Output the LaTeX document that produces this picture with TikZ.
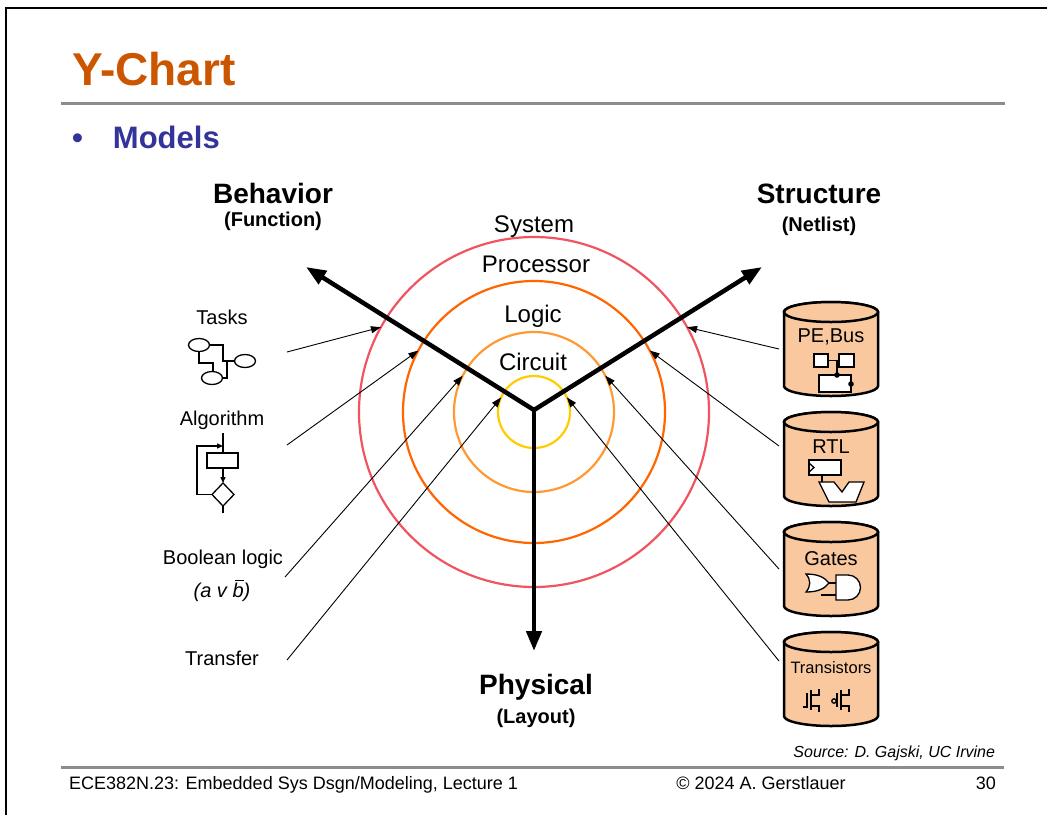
\documentclass[tikz,border=0pt]{standalone}
\usepackage{fontspec}
\setmainfont{Liberation Sans}
\setsansfont{Liberation Sans}
\usepackage{tikz}
\usetikzlibrary{arrows.meta}
\usetikzlibrary{chains}
\usetikzlibrary{positioning}

\definecolor{titleorange}{RGB}{204,85,0}
\definecolor{modelsblue}{RGB}{51,51,153}
\definecolor{ringred}{RGB}{240,84,96}
\definecolor{ringorange}{RGB}{255,102,0}
\definecolor{ringlight}{RGB}{255,153,51}
\definecolor{ringyellow}{RGB}{255,204,0}
\definecolor{dbfill}{RGB}{250,200,158}
\definecolor{rulegray}{RGB}{140,140,140}

% database drum round a named node
\newcommand{\dbshape}[1]{%
	\draw[dbline] ([yshift=-10pt]#1.north west) -- ([yshift=10pt]#1.south west)
		arc[start angle=180, end angle=360, x radius=47pt, y radius=10pt]
		-- ([yshift=-10pt]#1.north east)
		arc[start angle=0, end angle=180, x radius=47pt, y radius=10pt] -- cycle;
	\draw[dbline] ([yshift=-10pt]#1.north) ellipse [x radius=47pt, y radius=10pt];
}

\begin{document}
\begin{tikzpicture}[
	x=1pt, y=-1pt,
	start chain=1 going below,
	node distance=16pt,
	every node/.style={font=\sffamily, inner sep=0pt, outer sep=0pt},
	ring/.style={
		circle,
		draw=#1,
		line width=2.2pt
		},
	axis/.style={
		line width=4.5pt,
		line join=miter,
		-{Triangle[length=20pt,width=15pt]}
		},
	feed/.style={
		line width=0.9pt,
		-{Triangle[length=10pt,width=7pt]}
		},
	db/.style={
		on chain=1,
		rectangle,
		minimum width=94pt,
		minimum height=94pt
		},
	dbline/.style={
		line width=2.5pt,
		fill=dbfill
		},
	icon/.style={
		line width=1.3pt,
		fill=white
		},
	head/.style={anchor=base, font=\bfseries\fontsize{28}{30}\selectfont},
	sub/.style={anchor=base, font=\bfseries\fontsize{20}{22}\selectfont},
	level/.style={anchor=base, font=\fontsize{24}{26}\selectfont},
	model/.style={anchor=base, font=\fontsize{20}{22}\selectfont},
	foot/.style={font=\fontsize{18}{20}\selectfont}
]
\useasboundingbox (0,0) rectangle (1047,815);

% Frame and header
\draw[line width=2.5pt] (6,815) -- (6,8) -- (1047,8);
\node[anchor=base west, font=\bfseries\fontsize{46}{48}\selectfont, text=titleorange] (Title) at (72,85) {Y-Chart};
\draw[rulegray, line width=3pt] (61,103) -- (1005,103);
\node[anchor=base west, font=\bfseries\fontsize{31}{33}\selectfont, text=modelsblue] (Models) at (72,148) {\makebox[41pt][l]{\textbullet}Models};

% Rings
\node[ring=ringred, minimum size=350pt] (Ring 4) at (534,412) {};
\node[ring=ringorange, minimum size=262pt] (Ring 3) at (534,412) {};
\node[ring=ringlight, minimum size=160pt] (Ring 2) at (534,412) {};
\node[ring=ringyellow, minimum size=72pt] (Ring 1) at (534,412) {};
\node[level] (System) at (534,232) {System};
\node[level] (Processor) at (536,272) {Processor};
\node[level] (Logic) at (533,322) {Logic};
\node[level] (Circuit) at (533,370) {Circuit};

% Axes
\coordinate (Origin) at (534,410);
\coordinate (Behavior tip) at (306,267);
\coordinate (Structure tip) at (762,267);
\coordinate (Physical tip) at (534,651);
\draw[axis, {Triangle[length=20pt,width=15pt]}-{Triangle[length=20pt,width=15pt]}] (Behavior tip) -- (Origin) -- (Structure tip);
\draw[axis] (Origin) -- (Physical tip);
\node[head] (Behavior) at (273,203) {Behavior};
\node[sub] (Function) at (273,226) {(Function)};
\node[head] (Structure) at (819,203) {Structure};
\node[sub] (Netlist) at (819,231) {(Netlist)};
\node[head] (Physical) at (536,694) {Physical};
\node[sub] (Layout) at (536,723) {(Layout)};

% Behavior models
\node[model] (Tasks) at (222,324) {Tasks};
\node[model] (Algorithm) at (222,425) {Algorithm};
\node[model] (Boolean) at (223,564) {Boolean logic};
\node[model, font=\itshape\fontsize{20}{22}\selectfont] (Formula) at (222,597) {(a v b\llap{\raisebox{0.8em}{\rule{0.42em}{0.07em}}})};
\node[model] (Transfer) at (222,665) {Transfer};

\draw[icon] (199,345) ellipse [x radius=10.5, y radius=6.5];
\draw[icon] (245,361) ellipse [x radius=10.5, y radius=6.5];
\draw[icon] (212,378) ellipse [x radius=10.5, y radius=6.5];
\draw[line width=1.3pt] (209.5,345) -- (223,345) -- (223,361) -- (234.5,361);
\draw[line width=1.3pt] (199,351.5) -- (199,363) -- (213,363) -- (213,371.5);
\draw[line width=1.3pt] (222.5,378) -- (227,378) -- (227,361);

\draw[line width=1.3pt] (223,433) -- (223,453);
\draw[icon] (207,453) rectangle (238,468);
\draw[line width=1.3pt, -{Triangle[length=6pt,width=5pt]}] (223,468) -- (223,483);
\draw[icon] (223,483) -- (234,494.5) -- (223,506) -- (212,494.5) -- cycle;
\draw[line width=1.3pt] (223,506) -- (223,513);
\draw[line width=1.3pt, -{Triangle[length=6pt,width=5pt]}] (212,494.5) -- (197,494.5) -- (197,446) -- (223,446);

\coordinate (Tasks out) at (287,352);
\coordinate (Algorithm out) at (287,445);
\coordinate (Boolean out) at (285,577);
\coordinate (Transfer out) at (287,660);
\draw[feed] (Tasks out) -- (Ring 4.151);
\draw[feed] (Algorithm out) -- (Ring 3.152);
\draw[feed] (Boolean out) -- (Ring 2.153);
\draw[feed] (Transfer out) -- (Ring 1.156);

% Structure models
\node[db] (PE Bus) at (831,349) {};
\node[db] (RTL) {};
\node[db] (Gates) {};
\node[db] (Transistors) {};
\dbshape{PE Bus}
\dbshape{RTL}
\dbshape{Gates}
\dbshape{Transistors}

\node[model] (PE Bus label) at ([yshift=7pt]PE Bus.center) {PE,Bus};
\node[model] (RTL label) at ([yshift=6pt]RTL.center) {RTL};
\node[model] (Gates label) at ([yshift=4pt]Gates.center) {Gates};
\node[model, font=\fontsize{16.5}{18}\selectfont] (Transistors label) at ([yshift=6pt]Transistors.center) {Transistors};

\begin{scope}[shift={(PE Bus.center)}]
\draw[icon] (-17,5) rectangle (-3,18);
\draw[icon] (8,5) rectangle (23,18);
\draw[line width=1.3pt] (-3,11.5) -- (8,11.5);
\draw[line width=1.3pt] (6,11.5) -- (6,26);
\draw[icon] (-12,26) rectangle (20,43);
\fill (6,26) circle (2.8pt);
\fill (20,35) circle (2.8pt);
\end{scope}

\begin{scope}[shift={(RTL.center)}]
\draw[icon] (-22,1) rectangle (10,16);
\draw[line width=1.3pt] (-22,4) -- (-17,8.5) -- (-22,13);
\draw[line width=1.3pt] (-9,16) -- (-9,23);
\draw[icon] (-12,23) -- (3,23) -- (11,33) -- (18,23) -- (33,23) -- (25,43) -- (-2,43) -- cycle;
\end{scope}

\begin{scope}[shift={(Gates.center)}]
\draw[icon] (-25,5) .. controls (-12,5) and (-6,9) .. (-2,14) .. controls (-6,19) and (-12,23) .. (-25,23) .. controls (-20,17) and (-20,11) .. (-25,5) -- cycle;
\draw[icon] (5,6) -- (17,6) arc[start angle=90, end angle=-90, radius=12.5pt] -- (5,31) -- cycle;
\draw[line width=1.3pt] (-2,14) -- (5,14);
\draw[line width=1.3pt] (-10,26) -- (5,26);
\end{scope}

\begin{scope}[shift={(Transistors.center)}, line width=1.3pt]
\draw (-28,28) -- (-24,28) -- (-24,14);
\draw (-20,11) -- (-20,31);
\draw (-20,16) -- (-12,16) -- (-12,10);
\draw (-20,27) -- (-12,27) -- (-12,33);
\draw (3,22) circle (2.2pt);
\draw (6,28) -- (6,14);
\draw (10,11) -- (10,31);
\draw (10,16) -- (18,16) -- (18,10);
\draw (10,27) -- (18,27) -- (18,33);
\end{scope}

\draw[feed] ([xshift=-5pt]PE Bus.180) -- (Ring 4.29);
\draw[feed] ([xshift=-5pt, yshift=13pt]RTL.180) -- (Ring 3.28);
\draw[feed] ([xshift=-5pt]Gates.180) -- (Ring 2.27);
\draw[feed] ([xshift=-5pt, yshift=18pt]Transistors.180) -- (Ring 1.24);

% Footer
\node[anchor=base east, font=\itshape\fontsize{16}{18}\selectfont] (Source) at (995,757) {Source: D. Gajski, UC Irvine};
\draw[rulegray, line width=3pt] (61,767) -- (1004,767);
\node[foot, anchor=base west] (Course) at (69,789) {ECE382N.23: Embedded Sys Dsgn/Modeling, Lecture 1};
\node[foot, anchor=base] (Copyright) at (761,789) {\textcopyright{} 2024 A. Gerstlauer};
\node[foot, anchor=base east] (Page) at (996,789) {30};
\end{tikzpicture}
\end{document}
